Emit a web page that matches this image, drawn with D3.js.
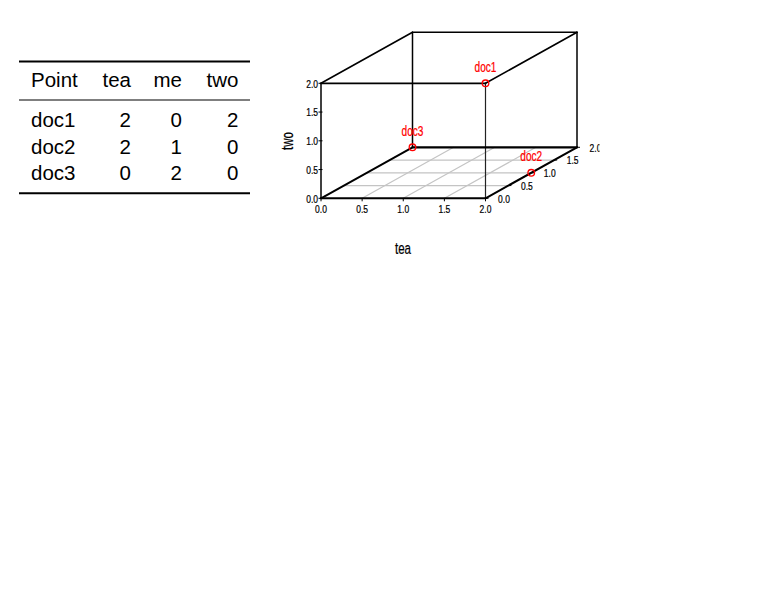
<!DOCTYPE html>
<html>
<head>
<meta charset="utf-8">
<script src="https://cdn.jsdelivr.net/npm/d3@7"></script>
<style>
  html, body { margin: 0; padding: 0; background: #fff; }
  svg { display: block; }
</style>
</head>
<body>
<svg id="chart" width="768" height="614"></svg>
<script>
// ---- data ----
const points = ["doc1", "doc2", "doc3"];
const teaVals = [2, 2, 0];
const meVals = [0, 1, 2];
const twoVals = [2, 0, 0];
const columns = ["Point", "tea", "me", "two"];
const tickVals = [0, 0.5, 1, 1.5, 2];
const gridVals = [0.5, 1, 1.5];

const svg = d3.select("#chart");

// ---- table ----
const tableFont = "'Liberation Sans', Arial, sans-serif";
const tbl = svg.append("g");
const ruleX = d3.scaleLinear().domain([0, 1]).range([19, 250]);
tbl.append("line").attr("x1", ruleX(0)).attr("x2", ruleX(1)).attr("y1", 61.5).attr("y2", 61.5)
  .attr("stroke", "#000").attr("stroke-width", 2);
tbl.append("line").attr("x1", ruleX(0)).attr("x2", ruleX(1)).attr("y1", 100).attr("y2", 100)
  .attr("stroke", "#000").attr("stroke-width", 1.1);
tbl.append("line").attr("x1", ruleX(0)).attr("x2", ruleX(1)).attr("y1", 193.3).attr("y2", 193.3)
  .attr("stroke", "#000").attr("stroke-width", 2);

const colX = d3.scaleOrdinal().domain(columns).range([31, 131, 182, 238.5]);
const colAnchor = c => c === "Point" ? "start" : "end";
const rowY = d3.scalePoint().domain(points).range([127, 180]);

tbl.selectAll("text.head").data(columns).enter().append("text")
  .attr("x", d => colX(d)).attr("y", 87)
  .attr("text-anchor", colAnchor)
  .attr("font-family", tableFont).attr("font-size", 20.5).attr("fill", "#000")
  .text(d => d);

const rows = points.map((p, i) => [p, teaVals[i], meVals[i], twoVals[i]]);
rows.forEach(r => {
  r.forEach((v, j) => {
    tbl.append("text")
      .attr("x", colX(columns[j])).attr("y", rowY(r[0]))
      .attr("text-anchor", colAnchor(columns[j]))
      .attr("font-family", tableFont).attr("font-size", 20.5).attr("fill", "#000")
      .text(v);
  });
});

// ---- 3D scatter (scatterplot3d style) ----
const plotFont = "'Liberation Sans', Arial, Helvetica, sans-serif";
const xTea = d3.scaleLinear().domain([0, 2]).range([321, 485.5]);
const meDX = d3.scaleLinear().domain([0, 2]).range([0, 91.5]);
const meDY = d3.scaleLinear().domain([0, 2]).range([0, -51]);
const yTwo = d3.scaleLinear().domain([0, 2]).range([198.3, 83.3]);

const proj = (t, m, w) => [xTea(t) + meDX(m), yTwo(w) + meDY(m)];

const defs = svg.append("defs");
defs.append("clipPath").attr("id", "plotclip")
  .append("rect").attr("x", 260).attr("y", 0).attr("width", 339.5).attr("height", 300);

const plot = svg.append("g").attr("clip-path", "url(#plotclip)");

function seg(a, b, w, col) {
  const p = proj(...a), q = proj(...b);
  plot.append("line")
    .attr("x1", p[0]).attr("y1", p[1]).attr("x2", q[0]).attr("y2", q[1])
    .attr("stroke", col || "#000").attr("stroke-width", w)
    .attr("stroke-linecap", "round");
}

// grid on floor
gridVals.forEach(m => seg([0, m, 0], [2, m, 0], 1.2, "#c4c4c4"));
gridVals.forEach(t => seg([t, 0, 0], [t, 2, 0], 1.2, "#c4c4c4"));

// box
seg([0, 0, 0], [0, 0, 2], 1.5);
seg([2, 0, 0], [2, 0, 2], 1.2, "#222");
seg([0, 2, 0], [0, 2, 2], 1.5);
seg([2, 2, 0], [2, 2, 2], 1.5);
seg([0, 0, 2], [2, 0, 2], 1.8);
seg([0, 0, 2], [0, 2, 2], 1.6);
seg([0, 2, 2], [2, 2, 2], 1.6);
seg([2, 0, 2], [2, 2, 2], 1.6);
seg([0, 0, 0], [2, 0, 0], 2);
seg([0, 0, 0], [0, 2, 0], 2);
seg([0, 2, 0], [2, 2, 0], 2.2);
seg([2, 0, 0], [2, 2, 0], 2);

function ntext(x, y, str, size, anchor, col, sx, rot) {
  const g = plot.append("g").attr("transform",
    `translate(${x},${y})` + (rot ? ` rotate(${rot})` : "") + ` scale(${sx},1)`);
  g.append("text").attr("x", 0).attr("y", 0)
    .attr("text-anchor", anchor).attr("font-family", plotFont)
    .attr("font-size", size).attr("fill", col || "#000")
    .attr("stroke", col || "#000").attr("stroke-width", 0.25)
    .text(str);
}

// z axis (two) ticks and labels
tickVals.forEach(v => {
  const p = proj(0, 0, v);
  plot.append("line").attr("x1", p[0] - 2.5).attr("x2", p[0] + 1.5)
    .attr("y1", p[1]).attr("y2", p[1]).attr("stroke", "#000").attr("stroke-width", 1);
  ntext(p[0] - 3, p[1] + 4.2, d3.format(".1f")(v), 11.8, "end", "#000", 0.72);
});
// x axis (tea) ticks and labels
tickVals.forEach(v => {
  const p = proj(v, 0, 0);
  plot.append("line").attr("x1", p[0]).attr("x2", p[0])
    .attr("y1", p[1]).attr("y2", p[1] + 3).attr("stroke", "#000").attr("stroke-width", 1);
  ntext(p[0], p[1] + 14.5, d3.format(".1f")(v), 11.8, "middle", "#000", 0.72);
});
// y axis (me) ticks and labels
tickVals.forEach(v => {
  const p = proj(2, v, 0);
  plot.append("line").attr("x1", p[0]).attr("x2", p[0] + 3)
    .attr("y1", p[1]).attr("y2", p[1]).attr("stroke", "#000").attr("stroke-width", 1);
  ntext(p[0] + 18.5, p[1] + 4.2, d3.format(".1f")(v), 11.8, "middle", "#000", 0.72);
});

// axis titles
ntext(403, 254, "tea", 16.5, "middle", "#000", 0.7);
ntext(293, 141, "two", 16.5, "middle", "#000", 0.7, -90);
ntext(617.5, 148, "me", 16.5, "middle", "#000", 0.7, -90);

// points
points.forEach((name, i) => {
  const p = proj(teaVals[i], meVals[i], twoVals[i]);
  plot.append("circle").attr("cx", p[0]).attr("cy", p[1]).attr("r", 3.3)
    .attr("fill", "none").attr("stroke", "#ff0000").attr("stroke-width", 1.3);
  ntext(p[0], p[1] - 11.5, name, 14, "middle", "#ff0000", 0.72);
});
</script>
</body>
</html>
